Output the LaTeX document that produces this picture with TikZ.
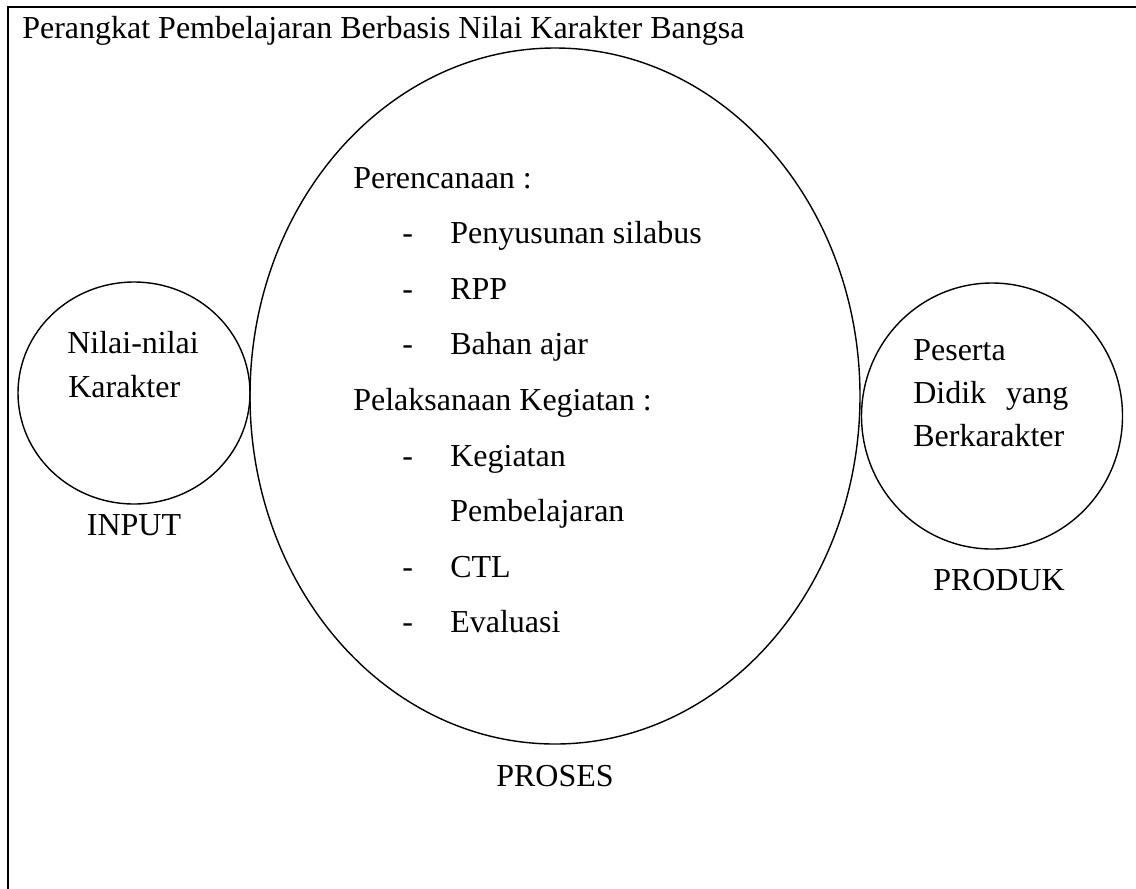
\documentclass[tikz,border=0pt]{standalone}
\usepackage{fontspec}
\setmainfont{Liberation Serif}
\usetikzlibrary{positioning}

\begin{document}
\begin{tikzpicture}[scale=0.2]
\tikzstyle{every node}+=[inner sep=0pt, font=\fontsize{18.2}{22}\selectfont]
\tikzstyle{txt}=[anchor=base west]
\tikzstyle{lbl}=[anchor=base]
\tikzstyle{ring}=[black, line width=0.8pt]
\tikzstyle{frame}=[black, line width=1.15pt]
\useasboundingbox (0,0) rectangle (113.6,-88.8);
\clip (0,0) rectangle (113.6,-88.8);
% frame, runs past the page on the right and bottom
\draw [frame] (0.8,-95) -- (0.8,-0.7) -- (120,-0.7);
\node [txt] (title) at (2.2,-3.8) {Perangkat Pembelajaran Berbasis Nilai Karakter Bangsa};
% input
\draw [ring] (13.4,-39.3) ellipse (11.6 and 11.1);
\node [txt] (nilai) at (6.7,-35.3) {Nilai-nilai};
\node [txt] (karakter) at (6.8,-39.7) {Karakter};
\node [lbl] (input) at (13.4,-53.5) {INPUT};
% proses
\draw [ring] (55.5,-39.6) ellipse (30.5 and 34.8);
\node [txt] (plan) at (35.3,-18.8) {Perencanaan :};
\node [txt] (d1) at (40.2,-24.36) {-};
\node [txt] (silabus) at (45.0,-24.36) {Penyusunan silabus};
\node [txt] (d2) at (40.2,-29.92) {-};
\node [txt] (rpp) at (45.0,-29.92) {RPP};
\node [txt] (d3) at (40.2,-35.48) {-};
\node [txt] (bahan) at (45.0,-35.48) {Bahan ajar};
\node [txt] (exec) at (35.3,-41.04) {Pelaksanaan Kegiatan :};
\node [txt] (d4) at (40.2,-46.6) {-};
\node [txt] (kegiatan) at (45.0,-46.6) {Kegiatan};
\node [txt] (belajar) at (45.0,-52.16) {Pembelajaran};
\node [txt] (d5) at (40.2,-57.72) {-};
\node [txt] (ctl) at (45.0,-57.72) {CTL};
\node [txt] (d6) at (40.2,-63.28) {-};
\node [txt] (eval) at (45.0,-63.28) {Evaluasi};
\node [lbl] (proses) at (55.5,-78.6) {PROSES};
% produk
\draw [ring] (99.2,-41.6) ellipse (13.05 and 13.3);
\node [txt] (peserta) at (91.3,-36.0) {Peserta};
\node [txt] (didik) at (91.3,-40.3) {\makebox[3.1cm][s]{Didik yang}};
\node [txt] (berkarakter) at (91.3,-44.6) {Berkarakter};
\node [lbl] (produk) at (99.9,-59.0) {PRODUK};
\end{tikzpicture}
\end{document}
